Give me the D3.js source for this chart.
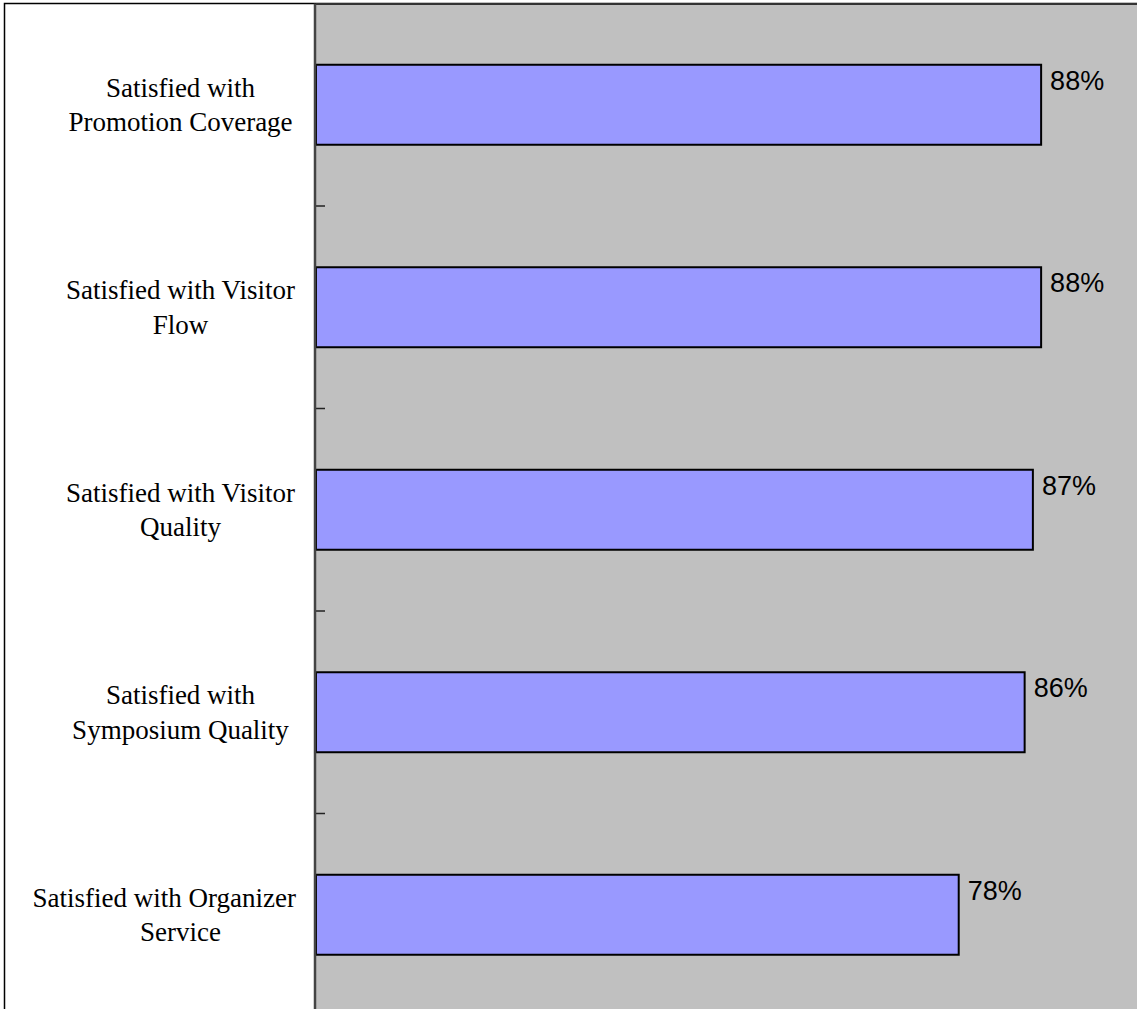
<!DOCTYPE html>
<html>
<head>
<meta charset="utf-8">
<script src="https://cdn.jsdelivr.net/npm/d3@7"></script>
<style>
  body { margin: 0; background: #fff; }
  svg { display: block; }
</style>
</head>
<body>
<svg id="chart"></svg>
<script>
// categories top to bottom, line breaks as in the original
const categories = [
    "Satisfied with\nPromotion Coverage",
    "Satisfied with Visitor\nFlow",
    "Satisfied with Visitor\nQuality",
    "Satisfied with\nSymposium Quality",
    "Satisfied with Organizer\nService"
];
const satisfaction = [0.88, 0.88, 0.87, 0.86, 0.78];
const valueLabels = ["88%", "88%", "87%", "86%", "78%"];

const width = 1137, height = 1009;
const plot = { left: 316, right: 1140, top: 3.5, bottom: 1016 };

const svg = d3.select("#chart")
    .attr("width", width)
    .attr("height", height);

const data = categories.map((c, i) => ({ name: c, value: satisfaction[i], label: valueLabels[i] }));

const xScale = d3.scaleLinear().domain([0, 1]).range([plot.left, plot.right]);
const yScale = d3.scaleBand()
    .domain(categories)
    .range([plot.top, plot.bottom])
    .paddingInner(0.605)
    .paddingOuter(0.3025);

// outer chart border
svg.append("rect")
    .attr("x", 4.5).attr("y", 3.5)
    .attr("width", width).attr("height", height)
    .attr("fill", "none")
    .attr("stroke", "#000")
    .attr("stroke-width", 1.5);

// plot area
svg.append("rect")
    .attr("x", plot.left).attr("y", plot.top)
    .attr("width", plot.right - plot.left)
    .attr("height", plot.bottom - plot.top)
    .attr("fill", "#c0c0c0");

svg.append("line")
    .attr("x1", plot.left).attr("x2", width)
    .attr("y1", 4).attr("y2", 4)
    .attr("stroke", "#333").attr("stroke-width", 2);

// bars
svg.append("g").selectAll("rect")
    .data(data)
    .join("rect")
    .attr("x", xScale(0))
    .attr("y", d => yScale(d.name))
    .attr("width", d => xScale(d.value) - xScale(0))
    .attr("height", yScale.bandwidth())
    .attr("fill", "#9999ff")
    .attr("stroke", "#000")
    .attr("stroke-width", 2);

// value labels
svg.append("g").selectAll("text")
    .data(data)
    .join("text")
    .attr("x", d => xScale(d.value) + 9)
    .attr("y", d => yScale(d.name) + 25)
    .attr("font-family", "Liberation Sans, Arial, sans-serif")
    .attr("font-size", 27)
    .attr("fill", "#000")
    .text(d => d.label);

// category axis: ticks between bands, pointing inward
const boundaries = categories.slice(1).map(c => yScale(c) - yScale.step() * yScale.paddingInner() / 2);
svg.append("g").selectAll("line")
    .data(boundaries)
    .join("line")
    .attr("x1", plot.left).attr("x2", plot.left + 9)
    .attr("y1", d => d).attr("y2", d => d)
    .attr("stroke", "#222").attr("stroke-width", 1.5);

svg.append("line")
    .attr("x1", plot.left - 1).attr("x2", plot.left - 1)
    .attr("y1", plot.top).attr("y2", height)
    .attr("stroke", "#444").attr("stroke-width", 2.5);

// category labels, centred but kept clear of the axis
const lineHeight = 34.5;
const labelCenter = 180.5, labelMaxRight = 296;
const labels = svg.append("g").selectAll("text")
    .data(data)
    .join("text")
    .attr("text-anchor", "middle")
    .attr("font-family", "Liberation Serif, Times New Roman, serif")
    .attr("font-size", 27)
    .attr("fill", "#000");

labels.each(function (d) {
    const lines = d.name.split("\n");
    const cy = yScale(d.name) + yScale.bandwidth() / 2;
    const first = cy - (lines.length - 1) * lineHeight / 2 + 9;
    d3.select(this).selectAll("tspan")
        .data(lines)
        .join("tspan")
        .attr("x", labelCenter)
        .attr("y", (l, i) => first + i * lineHeight)
        .text(l => l)
        .each(function () {
            const w = this.getComputedTextLength();
            if (labelCenter + w / 2 > labelMaxRight) {
                d3.select(this).attr("x", labelMaxRight - w / 2);
            }
        });
});
</script>
</body>
</html>
